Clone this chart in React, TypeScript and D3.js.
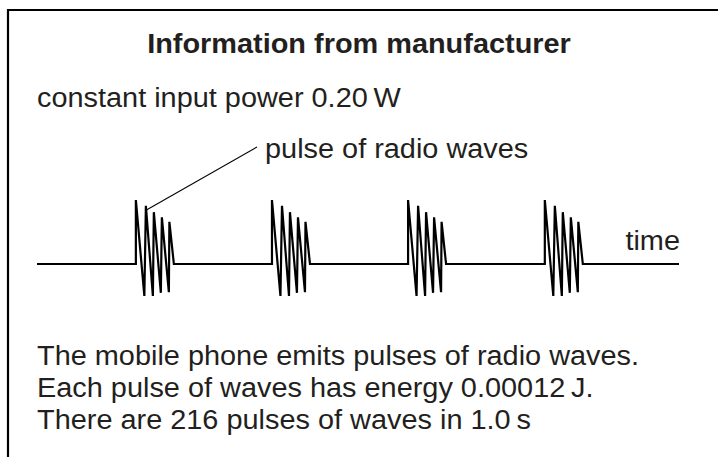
import React from "react";
import * as d3 from "d3";

// time positions of each pulse (arbitrary time units along the axis)
const pulseStarts = [15.4, 36.6, 57.8, 79.1];
// shape of one pulse: peaks and troughs (relative time, displacement)
const peakTimes = [0, 1.56, 2.8, 4.05, 5.22];
const peakValues = [1.0, 0.91, 0.81, 0.73, 0.66];
const troughTimes = [1.32, 2.65, 3.89, 5.14];
const troughValues = [-0.5, -0.5, -0.45, -0.44];
const pulseLength = 5.92;

const title = "Information from manufacturer";
const powerText = "constant input power 0.20\u2009W";
const pulseLabel = "pulse of radio waves";
const axisLabel = "time";
const notes = [
  "The mobile phone emits pulses of radio waves.",
  "Each pulse of waves has energy 0.00012\u2009J.",
  "There are 216 pulses of waves in 1.0\u2009s",
];

const width = 718;
const height = 457;
const font = "'Liberation Sans', Arial, Helvetica, sans-serif";
const sx = 1.07; // the original lettering is a little wide

const Label = ({ x, y, anchor = "start", bold = false, children }: any) => (
  <text
    transform={`translate(${x},${y}) scale(${sx},1)`}
    textAnchor={anchor}
    fontWeight={bold ? "bold" : "normal"}
    fontSize={27}
    fill="#231f20"
  >
    {children}
  </text>
);

const App = () => {
  const x = d3.scaleLinear().domain([0, 100]).range([37, 679]);
  const y = d3.scaleLinear().domain([-1, 1]).range([328, 200]);

  // build the wave trace: flat line with pulses inserted
  const pts: [number, number][] = [[0, 0]];
  pulseStarts.forEach((s) => {
    pts.push([s, 0]);
    peakTimes.forEach((pt, i) => {
      pts.push([s + pt, peakValues[i]]);
      if (i < troughTimes.length) pts.push([s + troughTimes[i], troughValues[i]]);
    });
    pts.push([s + pulseLength, 0]);
  });
  pts.push([100, 0]);

  const line = d3
    .line<[number, number]>()
    .x((d) => x(d[0]))
    .y((d) => y(d[1]));

  // leader line from second peak of first pulse to the label
  const first = pulseStarts[0];
  const lx = x(first + peakTimes[1]) + 1;
  const ly = y(peakValues[1]) + 4;

  return (
    <svg
      width={width}
      height={height}
      style={{ position: "absolute", left: 0, top: 0, background: "#fff" }}
      fontFamily={font}
    >
      <path d={`M8,${height} V10 H${width}`} fill="none" stroke="#000" strokeWidth={2.2} />
      <Label x={359} y={53} anchor="middle" bold>
        {title}
      </Label>
      <Label x={37} y={107}>{powerText}</Label>
      <path d={line(pts) ?? ""} fill="none" stroke="#000" strokeWidth={2.2} strokeLinejoin="miter" />
      <line x1={lx} y1={ly} x2={257} y2={147} stroke="#000" strokeWidth={1.1} />
      <Label x={265} y={158}>{pulseLabel}</Label>
      <Label x={680} y={250} anchor="end">
        {axisLabel}
      </Label>
      {notes.map((t, i) => (
        <Label key={i} x={37} y={365 + i * 32}>
          {t}
        </Label>
      ))}
    </svg>
  );
};

export default App;
